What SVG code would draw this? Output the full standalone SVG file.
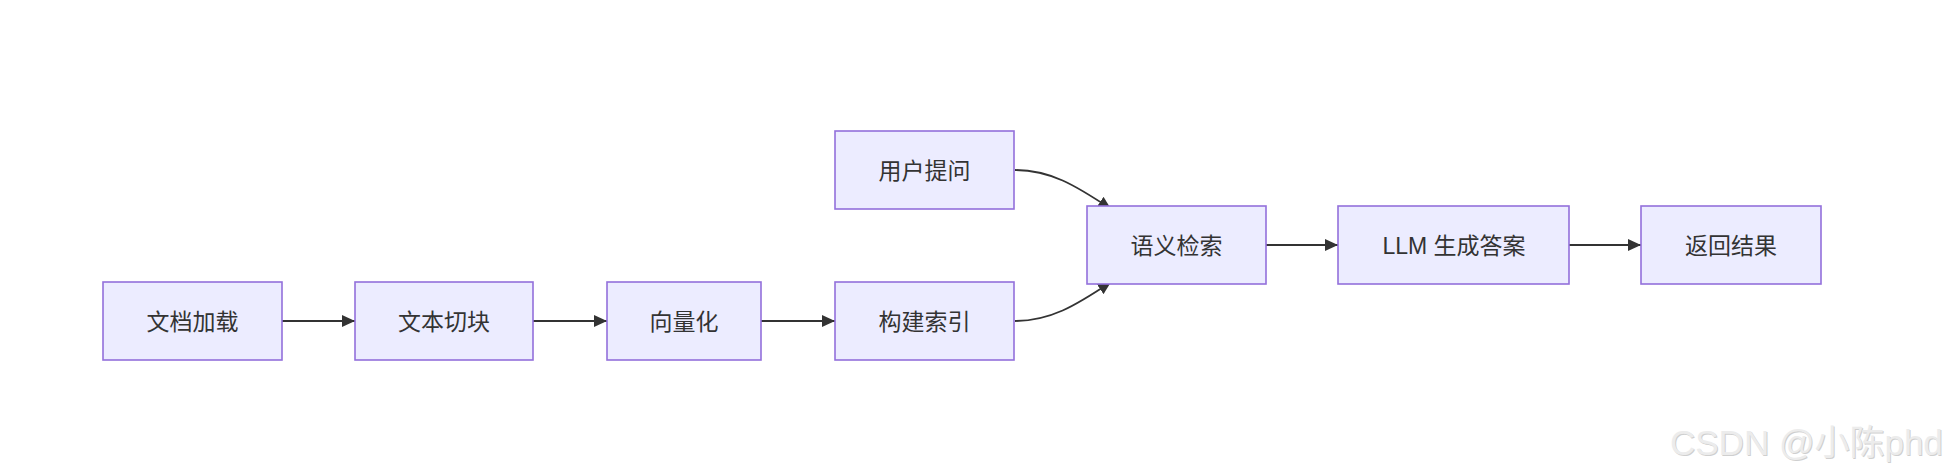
<svg xmlns="http://www.w3.org/2000/svg" width="1954" height="476" viewBox="0 0 1954 476">
  <style>
    .node rect { fill: #ECECFF; stroke: #9370DB; stroke-width: 1.6; }
    .node text { font-family: "Liberation Sans", "Noto Sans CJK SC", sans-serif; font-size: 23px; fill: #333333; text-anchor: middle; dominant-baseline: central; }
    .edge { fill: none; stroke: #333333; stroke-width: 1.8; marker-end: url(#arrow); }
    .wm { font-family: "Liberation Sans", "Noto Sans CJK SC", sans-serif; font-size: 35px; }
  </style>
  <defs>
    <marker id="arrow" markerUnits="userSpaceOnUse" markerWidth="13" markerHeight="12" refX="13" refY="6" orient="auto" viewBox="0 0 13 12">
      <path d="M0,0 L13,6 L0,12 z" fill="#333333"/>
    </marker>
  </defs>
  <rect x="0" y="0" width="1954" height="476" fill="#ffffff"/>

  <g id="connectors">
    <path class="edge" d="M282,321 L355,321"/>
    <path class="edge" d="M533,321 L607,321"/>
    <path class="edge" d="M761,321 L835,321"/>
    <path class="edge" d="M1015,170 C1050,170 1075,185 1111,209"/>
    <path class="edge" d="M1015,321 C1050,321 1075,306 1111,282"/>
    <path class="edge" d="M1266,245 L1338,245"/>
    <path class="edge" d="M1569,245 L1641,245"/>
  </g>

  <g id="n-load" class="node">
    <rect x="103" y="282" width="179" height="78"/>
    <text x="192.5" y="322">文档加载</text>
  </g>
  <g id="n-chunk" class="node">
    <rect x="355" y="282" width="178" height="78"/>
    <text x="444" y="322">文本切块</text>
  </g>
  <g id="n-embed" class="node">
    <rect x="607" y="282" width="154" height="78"/>
    <text x="684" y="322">向量化</text>
  </g>
  <g id="n-index" class="node">
    <rect x="835" y="282" width="179" height="78"/>
    <text x="924.5" y="322">构建索引</text>
  </g>
  <g id="n-query" class="node">
    <rect x="835" y="131" width="179" height="78"/>
    <text x="924.5" y="171">用户提问</text>
  </g>
  <g id="n-retrieve" class="node">
    <rect x="1087" y="206" width="179" height="78"/>
    <text x="1176.5" y="246">语义检索</text>
  </g>
  <g id="n-llm" class="node">
    <rect x="1338" y="206" width="231" height="78"/>
    <text x="1454" y="246">LLM 生成答案</text>
  </g>
  <g id="n-return" class="node">
    <rect x="1641" y="206" width="180" height="78"/>
    <text x="1731" y="246">返回结果</text>
  </g>

  <g id="watermark">
    <text class="wm" x="1671" y="456" fill="#cfcfcf">CSDN @小陈phd</text>
    <text class="wm" x="1670" y="455" fill="#ececec">CSDN @小陈phd</text>
  </g>
</svg>
